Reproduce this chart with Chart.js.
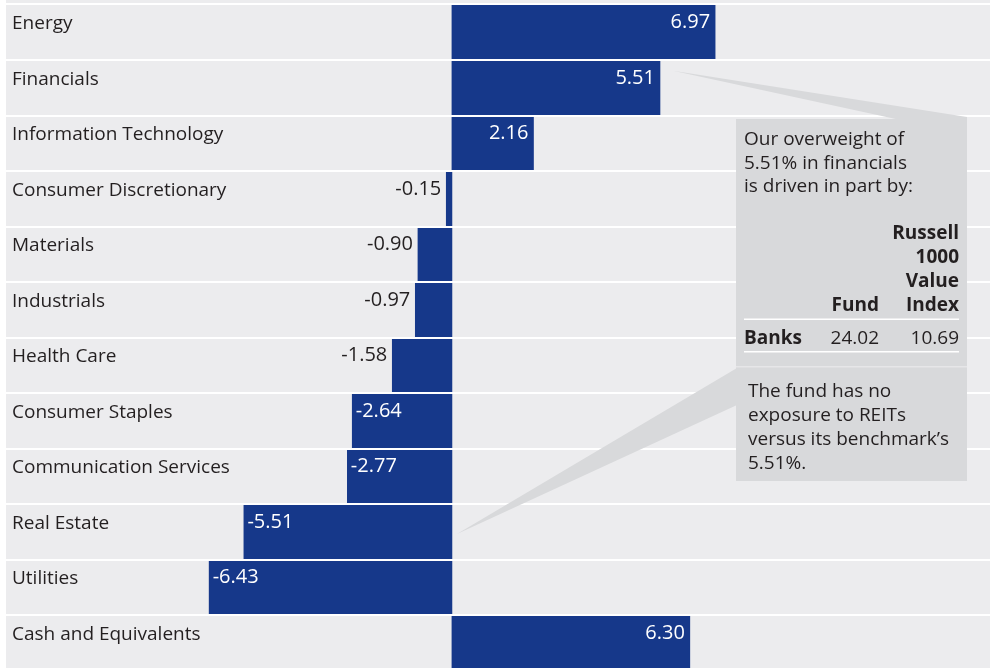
<!DOCTYPE html>
<html><head><meta charset="utf-8">
<script src="https://cdn.jsdelivr.net/npm/chart.js@4"></script>
<style>
html,body{margin:0;padding:0;background:#fff;overflow:hidden;width:992px;height:668px}
#wrap{position:absolute;left:0;top:0;width:992px;height:672px}
</style></head>
<body><div id="wrap"><canvas id="c"></canvas></div>
<script>
// ---- data ----
const categories = ["Energy","Financials","Information Technology","Consumer Discretionary","Materials","Industrials","Health Care","Consumer Staples","Communication Services","Real Estate","Utilities","Cash and Equivalents"];
const values = [6.97, 5.51, 2.16, -0.15, -0.90, -0.97, -1.58, -2.64, -2.77, -5.51, -6.43, 6.30];
const valueLabels = ["6.97","5.51","2.16","-0.15","-0.90","-0.97","-1.58","-2.64","-2.77","-5.51","-6.43","6.30"];
const calloutTopLines = ["Our overweight of","5.51% in financials","is driven in part by:"];
const tableHeadIndex = ["Russell","1000","Value","Index"];
const tableHeadFund = "Fund";
const tableRow = ["Banks","24.02","10.69"];
const calloutBottomLines = ["The fund has no","exposure to REITs","versus its benchmark\u2019s","5.51%."];
const xMin = -11.81, xMax = 14.25;
const insideMin = 2;

// ---- styles ----
const FONT = '"Open Sans", "Noto Sans", sans-serif';
const BAR = '#16388a';
const BG = '#ececee';
const BOX = '#d8d9db';
const INK = '#231f20';

const deco = {
  id: 'deco',
  beforeDraw(chart) {
    const {ctx, chartArea} = chart;
    ctx.save();
    ctx.fillStyle = BG;
    ctx.fillRect(chartArea.left, 0, chartArea.right - chartArea.left, chart.height);
    ctx.restore();
  },
  afterDraw(chart) {
    const {ctx} = chart;
    const xs = chart.scales.x, ys = chart.scales.y;
    const rowH = ys.getPixelForValue(1) - ys.getPixelForValue(0);
    ctx.save();
    // category labels
    ctx.fillStyle = INK;
    ctx.font = '19px ' + FONT;
    ctx.textAlign = 'left';
    ctx.textBaseline = 'alphabetic';
    categories.forEach((c, i) => {
      const top = ys.getPixelForValue(i) - rowH / 2;
      ctx.fillText(c, chart.chartArea.left + 6, top + 24.5);
    });
    // value labels
    ctx.font = '20px ' + FONT;
    const x0 = xs.getPixelForValue(0);
    values.forEach((v, i) => {
      const top = ys.getPixelForValue(i) - rowH / 2;
      const xe = xs.getPixelForValue(v);
      const y = top + 23.5;
      if (v >= 0) {
        ctx.fillStyle = '#fff'; ctx.textAlign = 'right';
        ctx.fillText(valueLabels[i], xe - 5, y);
      } else if (-v >= insideMin) {
        ctx.fillStyle = '#fff'; ctx.textAlign = 'left';
        ctx.fillText(valueLabels[i], xe + 3.5, y);
      } else {
        ctx.fillStyle = INK; ctx.textAlign = 'right';
        ctx.fillText(valueLabels[i], xe - 5, y);
      }
    });
    // callout
    const fi = categories.indexOf('Financials');
    const ri = categories.indexOf('Real Estate');
    const ax1 = xs.getPixelForValue(values[fi]) + 13, ay1 = ys.getPixelForValue(fi) - 17;
    const ax2 = x0 + 5, ay2 = ys.getPixelForValue(ri) + 2;
    const bx = 736, by = 119, bw = 231, bh = 362;
    ctx.fillStyle = BOX;
    ctx.beginPath();
    ctx.moveTo(ax1, ay1); ctx.lineTo(bx + bw, by - 2); ctx.lineTo(bx + bw, by + 2); ctx.lineTo(905, by + 2); ctx.closePath();
    ctx.fill();
    ctx.beginPath();
    ctx.moveTo(ax2, ay2); ctx.lineTo(bx + 1, 368); ctx.lineTo(bx + 1, 405); ctx.closePath();
    ctx.fill();
    ctx.fillRect(bx, by, bw, bh);
    ctx.fillStyle = '#e6e6e8';
    ctx.fillRect(bx, 366, bw, 1.5);
    ctx.fillStyle = '#fff';
    ctx.fillRect(744, 318.5, 215, 1.5);
    ctx.fillRect(744, 351, 215, 1.5);
    ctx.fillStyle = INK;
    ctx.font = '19px ' + FONT;
    ctx.textAlign = 'left';
    calloutTopLines.forEach((t, k) => ctx.fillText(t, 744, 145 + k * 23.7));
    ctx.font = 'bold 19px ' + FONT;
    ctx.textAlign = 'right';
    tableHeadIndex.forEach((t, k) => ctx.fillText(t, 959, 238.5 + k * 24.2));
    ctx.fillText(tableHeadFund, 879, 311);
    ctx.textAlign = 'left';
    ctx.fillText(tableRow[0], 744, 343.5);
    ctx.font = '19px ' + FONT;
    ctx.textAlign = 'right';
    ctx.fillText(tableRow[1], 879, 343.5);
    ctx.fillText(tableRow[2], 959, 343.5);
    ctx.textAlign = 'left';
    calloutBottomLines.forEach((t, k) => ctx.fillText(t, 748, 396.7 + k * 24.2));
    ctx.restore();
  }
};

new Chart(document.getElementById('c'), {
  type: 'bar',
  data: {
    labels: categories,
    datasets: [{ data: values, backgroundColor: BAR, borderWidth: 0, barPercentage: 1, categoryPercentage: 1 }]
  },
  options: {
    indexAxis: 'y',
    responsive: true,
    maintainAspectRatio: false,
    animation: false,
    events: [],
    layout: { padding: { left: 6, right: 2, top: 4.5, bottom: 1.3 } },
    plugins: { legend: { display: false }, tooltip: { enabled: false } },
    scales: {
      x: { type: 'linear', min: xMin, max: xMax, display: false },
      y: {
        display: true,
        offset: true,
        grid: { offset: true, color: '#ffffff', lineWidth: 2, z: 1, drawTicks: false },
        border: { display: false },
        ticks: { display: false }
      }
    }
  },
  plugins: [deco]
});
</script>
</body></html>
